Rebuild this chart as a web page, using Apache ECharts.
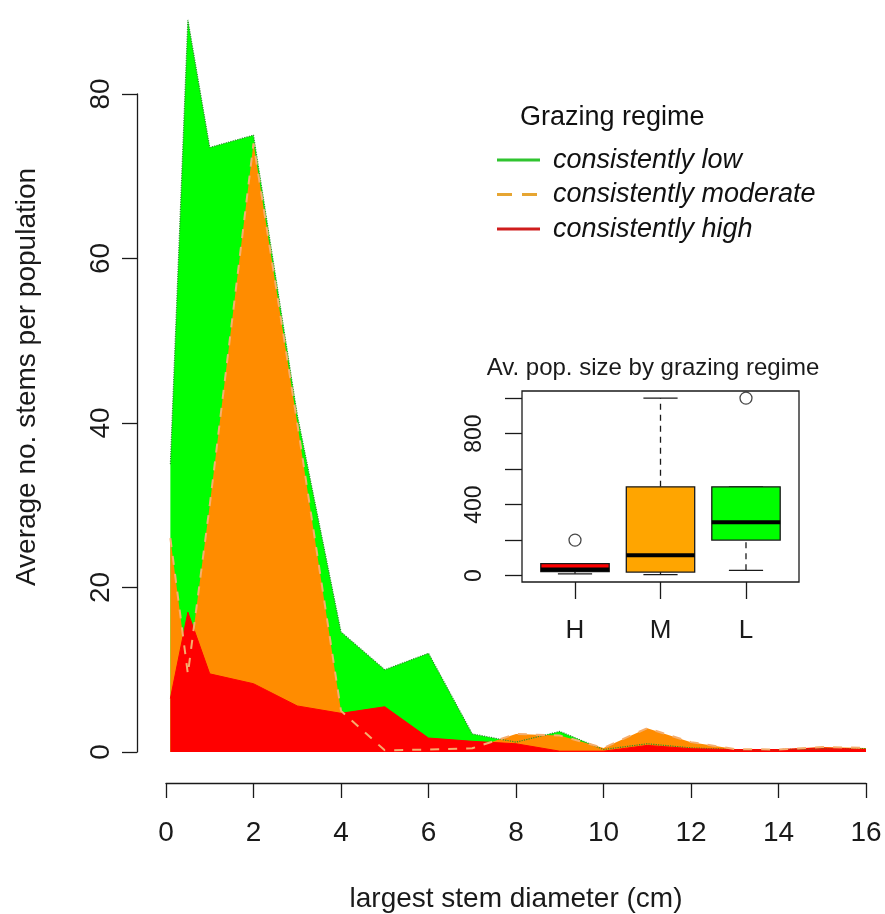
<!DOCTYPE html>
<html>
<head>
<meta charset="utf-8">
<title>Average stems per population by grazing regime</title>
<script src="https://cdn.jsdelivr.net/npm/echarts@6/dist/echarts.min.js"></script>
<style>
  html, body { margin: 0; padding: 0; background: #fff; }
  #chart { width: 885px; height: 914px; }
</style>
</head>
<body>
<div id="chart"></div>
<script>
// main plot: size classes (cm) and mean stems per population
var diameters = [0.1, 0.5, 1, 2, 3, 4, 5, 6, 7, 8, 9, 10, 11, 12, 13, 14, 15, 16];
var lowVals = [35, 89, 73.5, 75, 41, 14.6, 10, 12, 2.2, 1.2, 2.5, 0.3, 1, 0.5, 0.3, 0.3, 0.4, 0.4];
var moderateVals = [26, 9.5, 30, 74, 40, 5, 0.2, 0.3, 0.45, 2.2, 2, 0.5, 2.9, 1.2, 0.35, 0.3, 0.6, 0.5];
var highVals = [6.5, 17, 9.5, 8.3, 5.6, 4.7, 5.5, 1.7, 1.3, 1, 0.1, 0.1, 0.8, 0.4, 0.3, 0.3, 0.5, 0.3];
var xTicks = [0, 16, 2];
var yTicks = [0, 80, 20];
var legendNames = ['consistently low', 'consistently moderate', 'consistently high'];

// inset boxplot: [min, Q1, median, Q3, max] per regime
var boxCats = ['H', 'M', 'L'];
var boxStats = [
  [10, 22, 35, 68, 68],
  [5, 20, 115, 500, 1000],
  [30, 200, 300, 500, 500]
];
var boxOutliers = [[1, 200], [3, 1000]];
var boxFills = ['#FF0000', '#FFA500', '#00FF00'];
var insetTicks = [0, 200, 400, 600, 800, 1000];
var insetLabels = [0, 400, 800];

var FONT = '"Liberation Sans", Arial, sans-serif';
var INK = '#1a1a1a';

function pairs(xs, ys) {
  var out = [];
  for (var i = 0; i < xs.length; i++) out.push([xs[i], ys[i]]);
  return out;
}

function drawBox(params, api) {
  var pos = api.value(0);
  var half = api.size([0.4, 0])[0];
  var cap = half / 2;
  var p = function (k) { return api.coord([pos, api.value(k)]); };
  var lo = p(1), q1 = p(2), md = p(3), q3 = p(4), hi = p(5);
  var cx = lo[0];
  var solid = { stroke: INK, lineWidth: 1.3 };
  var dash = { stroke: INK, lineWidth: 1.3, lineDash: [6, 5] };
  return {
    type: 'group',
    children: [
      { type: 'line', shape: { x1: cx, y1: q3[1], x2: cx, y2: hi[1] }, style: dash },
      { type: 'line', shape: { x1: cx, y1: lo[1], x2: cx, y2: q1[1] }, style: dash },
      { type: 'line', shape: { x1: cx - cap, y1: hi[1], x2: cx + cap, y2: hi[1] }, style: solid },
      { type: 'line', shape: { x1: cx - cap, y1: lo[1], x2: cx + cap, y2: lo[1] }, style: solid },
      { type: 'rect', shape: { x: cx - half, y: q3[1], width: half * 2, height: q1[1] - q3[1] },
        style: { fill: boxFills[params.dataIndex], stroke: INK, lineWidth: 1.3 } },
      { type: 'line', shape: { x1: cx - half, y1: md[1], x2: cx + half, y2: md[1] },
        style: { stroke: '#000', lineWidth: 4 } }
    ]
  };
}

var boxData = boxStats.map(function (s, i) { return [i + 1].concat(s); });

var legendColors = ['#2fc42f', '#e6a532', '#cf1d1d'];
var legendGraphics = [
  { type: 'text', left: 520, top: 104, style: { text: 'Grazing regime', font: '27px ' + FONT, fill: '#111' } }
];
legendNames.forEach(function (name, i) {
  var y = 160 + i * 34.5;
  legendGraphics.push({
    type: 'line', shape: { x1: 497, y1: y, x2: 540, y2: y },
    style: { stroke: legendColors[i], lineWidth: 3, lineDash: i === 1 ? [15, 10] : null }
  });
  legendGraphics.push({
    type: 'text', x: 553, y: y,
    style: { text: name, font: 'italic 27px ' + FONT, fill: '#111', verticalAlign: 'middle' }
  });
});

var chart = echarts.init(document.getElementById('chart'));
chart.setOption({
  animation: false,
  backgroundColor: '#fff',
  textStyle: { fontFamily: FONT },
  grid: [
    { left: 166, right: 19, top: 94, bottom: 162, outerBoundsMode: 'none', containLabel: false },
    { left: 522, top: 391, width: 277, height: 191, show: true, borderColor: INK, borderWidth: 1.3,
      outerBoundsMode: 'none', containLabel: false }
  ],
  xAxis: [
    {
      type: 'value', gridIndex: 0, min: xTicks[0], max: xTicks[1], interval: xTicks[2],
      offset: 31,
      name: 'largest stem diameter (cm)', nameLocation: 'middle', nameGap: 102,
      nameTextStyle: { fontSize: 28, color: INK, fontFamily: FONT },
      axisLine: { onZero: false, lineStyle: { color: INK, width: 1.3 } },
      axisTick: { length: 15, lineStyle: { color: INK, width: 1.3 } },
      axisLabel: { fontSize: 28, color: INK, margin: 36, fontFamily: FONT },
      splitLine: { show: false }
    },
    {
      type: 'value', gridIndex: 1, min: 0.38, max: 3.62,
      axisLine: { show: false, onZero: false },
      axisTick: { customValues: [1, 2, 3], length: 17, lineStyle: { color: INK, width: 1.3 } },
      axisLabel: {
        customValues: [1, 2, 3], fontSize: 26, color: INK, margin: 36, fontFamily: FONT,
        formatter: function (v) { return boxCats[Math.round(v) - 1]; }
      },
      splitLine: { show: false }
    }
  ],
  yAxis: [
    {
      type: 'value', gridIndex: 0, min: yTicks[0], max: yTicks[1], interval: yTicks[2],
      offset: 29,
      axisLine: { show: true, onZero: false, lineStyle: { color: INK, width: 1.3 } },
      axisTick: { show: true, length: 15, lineStyle: { color: INK, width: 1.3 } },
      axisLabel: { fontSize: 28, color: INK, rotate: 90, margin: 22, fontFamily: FONT },
      splitLine: { show: false }
    },
    {
      type: 'value', gridIndex: 1, min: -36, max: 1040,
      axisLine: { show: false, onZero: false },
      axisTick: { show: true, customValues: insetTicks, length: 17, lineStyle: { color: INK, width: 1.3 } },
      axisLabel: { customValues: insetLabels, fontSize: 23, color: INK, rotate: 90, margin: 36, fontFamily: FONT },
      splitLine: { show: false }
    }
  ],
  series: [
    {
      name: legendNames[0], type: 'line', data: pairs(diameters, lowVals),
      symbol: 'none', clip: false,
      lineStyle: { color: '#2a8f2a', width: 1.2, type: 'dotted' },
      areaStyle: { color: '#00FF00', opacity: 1 }
    },
    {
      name: legendNames[1], type: 'line', data: pairs(diameters, moderateVals),
      symbol: 'none', clip: false,
      lineStyle: { width: 0 },
      areaStyle: { color: '#FF8C00', opacity: 1 }
    },
    {
      name: legendNames[2], type: 'line', data: pairs(diameters, highVals),
      symbol: 'none', clip: false,
      lineStyle: { color: '#FF0000', width: 1 },
      areaStyle: { color: '#FF0000', opacity: 1 }
    },
    {
      name: legendNames[1] + ' outline', type: 'line', data: pairs(diameters, moderateVals),
      symbol: 'none', clip: false,
      lineStyle: { color: '#F5AE6E', width: 2, type: [9, 9] }
    },
    {
      type: 'custom', xAxisIndex: 1, yAxisIndex: 1,
      renderItem: drawBox, data: boxData
    },
    {
      type: 'scatter', xAxisIndex: 1, yAxisIndex: 1, data: boxOutliers,
      symbol: 'circle', symbolSize: 12,
      itemStyle: { color: '#fff', borderColor: INK, borderWidth: 1.3 }
    }
  ],
  graphic: legendGraphics.concat([
    {
      type: 'text', x: 27, y: 377, rotation: Math.PI / 2,
      style: { text: 'Average no. stems per population', font: '28px ' + FONT, fill: INK,
        align: 'center', verticalAlign: 'middle' }
    },
    {
      type: 'text', x: 653, y: 368,
      style: { text: 'Av. pop. size by grazing regime', font: '24px ' + FONT, fill: INK,
        align: 'center', verticalAlign: 'middle' }
    }
  ])
});
</script>
</body>
</html>
